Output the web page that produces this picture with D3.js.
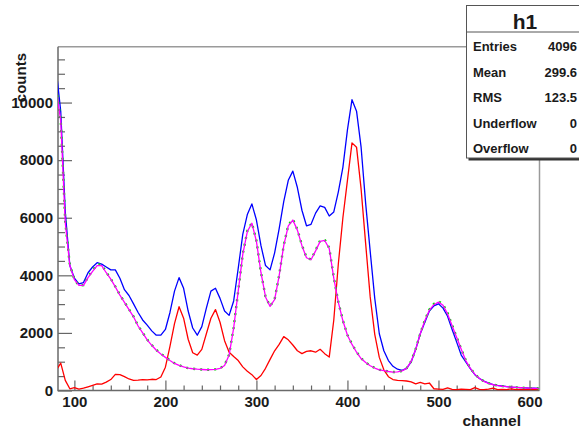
<!DOCTYPE html>
<html>
<head>
<meta charset="utf-8">
<script src="https://cdn.jsdelivr.net/npm/d3@7"></script>
<style>
  html, body { margin: 0; padding: 0; background: #ffffff; }
  svg { display: block; }
  text { font-family: "Liberation Sans", Arial, Helvetica, sans-serif; font-weight: bold; fill: #1a1a1a; }
</style>
</head>
<body>
<svg id="chart" width="579" height="430"></svg>
<script>
// ---- data (bins of 5 channels, starting at channel 80) ----
const channelStart = 80, channelEnd = 610, channelStep = 5;
const blueCounts = [
  11150, 9700, 6200, 4340, 3900, 3700, 3750, 4090, 4290, 4440,
  4390, 4290, 4190, 4190, 3900, 3500, 3300, 3010, 2710, 2450,
  2270, 2070, 1920, 1920, 2120, 2710, 3450, 3920, 3550, 2760,
  2170, 1920, 2220, 2860, 3450, 3550, 3200, 2760, 2610, 3110,
  4240, 5420, 6110, 6480, 5920, 5030, 4340, 4190, 4780, 5620,
  6560, 7300, 7620, 7050, 6260, 5720, 5770, 6160, 6410, 6360,
  6060, 6200, 6900, 7750, 9050, 10100, 9700, 8450, 6500, 4830,
  3200, 1970, 1380, 1040, 840, 740, 700, 770, 990, 1430,
  1970, 2370, 2760, 2940, 3010, 2860, 2580, 2120, 1680, 1230,
  990, 760, 550, 415, 325, 255, 205, 178, 158, 138,
  118, 108, 98, 90, 84, 78, 74
];
const redCounts = [
  700, 950, 350, 60, 100, 50, 80, 130, 180, 230,
  220, 290, 380, 560, 550, 480, 400, 350, 360, 380,
  370, 390, 380, 470, 810, 1530, 2320, 2910, 2510, 1780,
  1310, 1230, 1430, 1970, 2510, 2810, 2370, 1730, 1330, 1180,
  1040, 820, 670, 550, 380, 520, 770, 1080, 1380, 1600,
  1870, 1760, 1580, 1380, 1280, 1360, 1380, 1330, 1430, 1280,
  1160, 2450, 4400, 6000, 7300, 8600, 8450, 7000, 5100, 3250,
  1950, 1150, 720, 480, 380, 350, 340, 330, 300, 230,
  280, 230, 260, 60, 50, 40, 90, 40, 30, 50,
  40, 30, 100, 40, 30, 50, 80, 30, 40, 30,
  60, 30, 40, 30, 40, 30, 30
];
const greenCounts = [
  10500, 9400, 5850, 4360, 3860, 3640, 3660, 3940, 4170, 4380,
  4370, 4110, 3880, 3610, 3320, 3070, 2820, 2570, 2250, 2010,
  1770, 1580, 1410, 1280, 1160, 1050, 950, 880, 820, 780,
  755, 740, 730, 720, 725, 735, 770, 880, 1250, 2190,
  3460, 4740, 5540, 5830, 5200, 4100, 3260, 2930, 3170, 4000,
  5050, 5740, 5950, 5590, 5050, 4620, 4550, 4870, 5210, 5240,
  4950, 3920, 3070, 2430, 1930, 1610, 1340, 1120, 975, 865,
  785, 725, 690, 660, 640, 650, 680, 775, 1020, 1440,
  1980, 2440, 2810, 3010, 3100, 2990, 2690, 2270, 1850, 1440,
  1050, 780, 565, 420, 318, 252, 202, 174, 150, 134,
  119, 107, 98, 90, 84, 78, 74
];
const magentaCounts = [
  10450, 9370, 5820, 4340, 3850, 3650, 3650, 3920, 4140, 4340,
  4340, 4090, 3870, 3600, 3310, 3060, 2810, 2560, 2240, 2000,
  1760, 1570, 1400, 1270, 1150, 1040, 940, 870, 820, 780,
  755, 740, 730, 720, 725, 735, 770, 870, 1230, 2170,
  3450, 4730, 5520, 5810, 5180, 4090, 3250, 2920, 3160, 3990,
  5030, 5720, 5920, 5570, 5030, 4610, 4540, 4850, 5180, 5210,
  4930, 3900, 3060, 2420, 1920, 1600, 1330, 1110, 970, 860,
  780, 720, 690, 660, 640, 650, 680, 770, 1010, 1430,
  1970, 2420, 2790, 2980, 3070, 2960, 2660, 2250, 1840, 1430,
  1040, 770, 560, 415, 315, 250, 200, 172, 148, 133,
  118, 106, 97, 89, 83, 77, 73
];
const xMajorTicks = [100, 200, 300, 400, 500, 600];
const yMajorTicks = [0, 2000, 4000, 6000, 8000, 10000];
const statLabels = ["Entries", "Mean", "RMS", "Underflow", "Overflow"];
const statValues = ["4096", "299.6", "123.5", "0", "0"];
const histTitle = "h1";
const xTitle = "channel";
const yTitle = "counts";

// ---- layout ----
const svg = d3.select("#chart");
const L = 58, R = 539.5, T = 46.7, B = 390.5;
const x = d3.scaleLinear().domain([82, 611]).range([L, R]);
const y = d3.scaleLinear().domain([0, 11940]).range([B, T]);
const channels = d3.range(channelStart, channelEnd + 1, channelStep);

svg.append("defs").append("clipPath").attr("id", "plotclip")
  .append("rect").attr("x", L).attr("y", T).attr("width", R - L).attr("height", B - T);

// frame (top & right)
svg.append("path")
  .attr("d", `M${L},${T}H${R}V${B}`)
  .attr("fill", "none").attr("stroke", "#9a9a9a").attr("stroke-width", 1.5);

// x axis ticks
const xMinor = d3.range(100, 611, 20).filter(v => v % 100 !== 0);
const gx = svg.append("g").attr("transform", `translate(0,${B})`);
gx.call(d3.axisBottom(x).tickValues(xMinor).tickSize(-5).tickFormat(""));
gx.append("g").call(d3.axisBottom(x).tickValues(xMajorTicks).tickSize(-10).tickPadding(5.5).tickFormat(d3.format("d")));
gx.selectAll(".domain").remove();
gx.selectAll("line").attr("stroke", "#666").attr("stroke-width", 1.2);
gx.selectAll("text").attr("font-size", 15).attr("fill", "#1a1a1a")
  .attr("font-family", '"Liberation Sans", Arial, sans-serif').attr("font-weight", "bold");

// y axis ticks
const yMinor = d3.range(0, 11941, 500).filter(v => v % 2000 !== 0);
const gy = svg.append("g").attr("transform", `translate(${L},0)`);
gy.call(d3.axisLeft(y).tickValues(yMinor).tickSize(-7).tickFormat(""));
gy.append("g").call(d3.axisLeft(y).tickValues(yMajorTicks).tickSize(-14).tickPadding(5).tickFormat(d3.format("d")));
gy.selectAll(".domain").remove();
gy.selectAll("line").attr("stroke", "#666").attr("stroke-width", 1.2);
gy.selectAll("text").attr("font-size", 15).attr("fill", "#1a1a1a")
  .attr("font-family", '"Liberation Sans", Arial, sans-serif').attr("font-weight", "bold");

// axis lines
svg.append("path").attr("d", `M${L},${T}V${B}H${R}`)
  .attr("fill", "none").attr("stroke", "#6a6a6a").attr("stroke-width", 1.5);

// curves
const line = d3.line().x((d, i) => x(channels[i])).y(d => y(d));
const plot = svg.append("g").attr("clip-path", "url(#plotclip)");
plot.append("path").datum(blueCounts).attr("d", line)
  .attr("fill", "none").attr("stroke", "#0000ff").attr("stroke-width", 1.3).attr("stroke-linejoin", "round");
plot.append("path").datum(redCounts).attr("d", line)
  .attr("fill", "none").attr("stroke", "#ff0000").attr("stroke-width", 1.3).attr("stroke-linejoin", "round");
plot.append("path").datum(greenCounts).attr("d", line)
  .attr("fill", "none").attr("stroke", "#00dd00").attr("stroke-width", 2.4).attr("stroke-dasharray", "2,5");
plot.append("path").datum(magentaCounts).attr("d", line)
  .attr("fill", "none").attr("stroke", "#ff00ff").attr("stroke-width", 1.3).attr("stroke-linejoin", "round");

// axis titles
svg.append("text").attr("x", 521).attr("y", 426).attr("text-anchor", "end")
  .attr("font-size", 15.5).text(xTitle);
svg.append("text").attr("transform", "translate(25.5,53) rotate(-90)").attr("text-anchor", "end")
  .attr("font-size", 15).text(yTitle);

// stats box
const bx = 466.5, by = 5.5, bw = 121, bh = 152.5;
svg.append("rect").attr("x", bx + 2).attr("y", by + 2.5).attr("width", bw).attr("height", bh).attr("fill", "#333");
svg.append("rect").attr("x", bx).attr("y", by).attr("width", bw).attr("height", bh)
  .attr("fill", "#ffffff").attr("stroke", "#555").attr("stroke-width", 1);
svg.append("line").attr("x1", bx).attr("x2", bx + bw).attr("y1", 32).attr("y2", 32)
  .attr("stroke", "#555").attr("stroke-width", 1);
svg.append("text").attr("x", 525).attr("y", 29).attr("text-anchor", "middle")
  .attr("font-size", 21).text(histTitle);
const rowY = d3.scaleLinear().domain([0, statLabels.length - 1]).range([51, 153]);
statLabels.forEach((lab, i) => {
  svg.append("text").attr("x", 473).attr("y", rowY(i)).attr("font-size", 13).text(lab);
  svg.append("text").attr("x", 577).attr("y", rowY(i)).attr("text-anchor", "end")
    .attr("font-size", 13).text(statValues[i]);
});
</script>
</body>
</html>
